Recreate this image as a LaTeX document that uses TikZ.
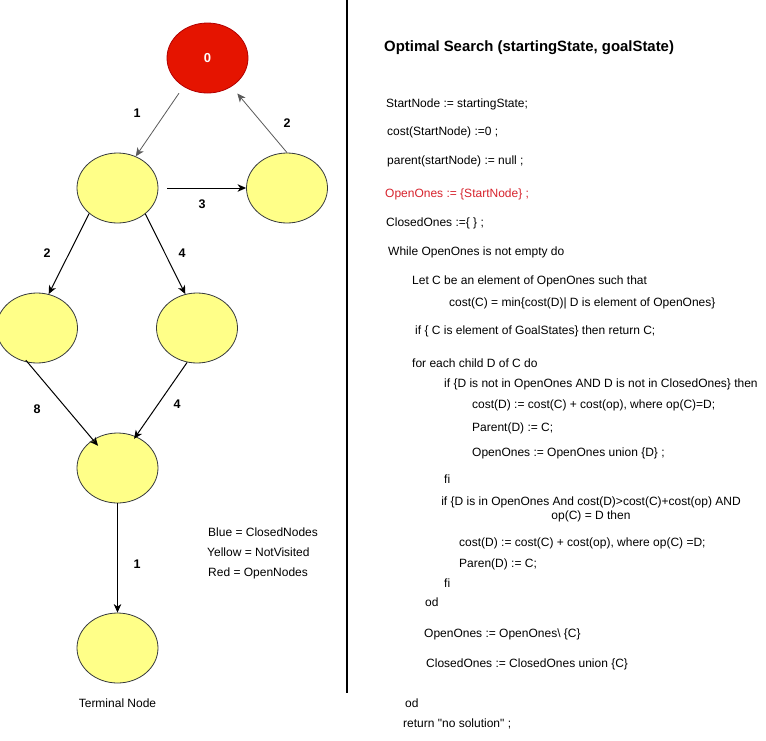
\documentclass[tikz,border=0pt]{standalone}
\usepackage{fontspec}
\setmainfont{Liberation Sans}
\usetikzlibrary{arrows.meta,shapes.geometric}
\definecolor{nodered}{HTML}{E51400}
\definecolor{nodereddraw}{HTML}{B20000}
\definecolor{nodeyellow}{HTML}{FFFF88}
\definecolor{nodeyellowdraw}{HTML}{36393D}
\definecolor{codered}{RGB}{215,35,45}
\definecolor{edgegray}{RGB}{90,90,90}
\tikzset{
  statenode/.style={ellipse, minimum width=81pt, minimum height=70pt, inner sep=0pt, line width=0.8pt},
  yellownode/.style={statenode, fill=nodeyellow, draw=nodeyellowdraw},
  rednode/.style={statenode, fill=nodered, draw=nodereddraw, text=white, font=\fontsize{13}{15}\selectfont\bfseries},
  edgeblack/.style={line width=1pt, black, -{Stealth[length=8.5pt,width=7.5pt,inset=2.5pt]}},
  edgegrey/.style={line width=0.8pt, edgegray, -{Stealth[length=8.5pt,width=7.5pt,inset=2.5pt]}},
  edgelabel/.style={inner sep=0pt, font=\fontsize{12.5}{14}\selectfont\bfseries},
  plain/.style={inner sep=0pt, anchor=west, text height=8.5pt, text depth=2.5pt, font=\fontsize{12}{14}\selectfont},
  titletext/.style={inner sep=0pt, anchor=west, font=\fontsize{14.9}{17}\selectfont\bfseries},
}
\begin{document}
\begin{tikzpicture}[x=1pt, y=-1pt]
\useasboundingbox (0,0) rectangle (766,740);
\fill[white] (0,0) rectangle (766,740);

% separator
\draw[line width=1.3pt] (347,0) coordinate (sepTop) -- (347,693) coordinate (sepBot);

% nodes
\node[rednode] (n0) at (207.5,58) {0};
\node[yellownode] (nA) at (117.5,188) {};
\node[yellownode] (nB) at (287,188) {};
\node[yellownode] (nC) at (37,328) {};
\node[yellownode] (nD) at (197,328) {};
\node[yellownode] (nE) at (117.5,468) {};
\node[yellownode] (nF) at (117.5,648) {};

% edges
\draw[edgegrey, shorten <=8pt] (n0.230) -- (nA.60);
\draw[edgegrey, shorten >=9pt] (nB.north) -- (n0.310);
\draw[edgeblack, shorten <=9pt] (nA.east) -- (nB.west);
\draw[edgeblack] (nA.222) -- (nC.71);
\draw[edgeblack] (nA.317) -- (nD.109);
\draw[edgeblack, shorten <=-3pt, shorten >=-8pt] (nC.255) -- (nE.131);
\draw[edgeblack, shorten >=-3pt] (nD.254) -- (nE.60);
\draw[edgeblack] (nE.south) -- (nF.north);

% edge labels
\node[edgelabel] (l1) at (137,113) {1};
\node[edgelabel] (l2) at (287,123) {2};
\node[edgelabel] (l3) at (202,204) {3};
\node[edgelabel] (l4) at (47,253) {2};
\node[edgelabel] (l5) at (182,253) {4};
\node[edgelabel] (l6) at (37,409) {8};
\node[edgelabel] (l7) at (177,404) {4};
\node[edgelabel] (l8) at (137,564) {1};

% legend
\node[plain] (lg1) at (208,533) {Blue = ClosedNodes};
\node[plain] (lg2) at (207,553) {Yellow = NotVisited};
\node[plain] (lg3) at (208,573) {Red = OpenNodes};
\node[plain, anchor=center] (term) at (117.5,704) {Terminal Node};

% algorithm
\node[titletext] (title) at (384,48) {Optimal Search (startingState, goalState)};
\node[plain] (c1) at (386,104) {StartNode := startingState;};
\node[plain] (c2) at (387,132) {cost(StartNode) :=0 ;};
\node[plain] (c3) at (387,161) {parent(startNode) := null ;};
\node[plain, text=codered] (c4) at (385,194) {OpenOnes := \{StartNode\} ;};
\node[plain] (c5) at (386,223) {ClosedOnes :=\{ \} ;};
\node[plain] (c6) at (388,252) {While OpenOnes is not empty do};
\node[plain] (c7) at (412,281) {Let C be an element of OpenOnes such that};
\node[plain] (c8) at (449,303) {cost(C) = min\{cost(D)| D is element of OpenOnes\}};
\node[plain] (c9) at (415,331) {if \{ C is element of GoalStates\} then return C;};
\node[plain] (c10) at (412,364) {for each child D of C do};
\node[plain] (c11) at (444,384) {if \{D is not in OpenOnes AND D is not in ClosedOnes\} then};
\node[plain] (c12) at (472,405) {cost(D) := cost(C) + cost(op), where op(C)=D;};
\node[plain] (c13) at (472,428) {Parent(D) := C;};
\node[plain] (c14) at (472,453) {OpenOnes := OpenOnes union \{D\} ;};
\node[plain] (c15) at (444,480) {fi};
\node[inner sep=0pt, align=center, font=\fontsize{12}{14}\selectfont] (c16) at (591,509) {if \{D is in OpenOnes And cost(D)>cost(C)+cost(op) AND\\op(C) = D then};
\node[plain] (c17) at (459,543) {cost(D) := cost(C) + cost(op), where op(C) =D;};
\node[plain] (c18) at (459,564) {Paren(D) := C;};
\node[plain] (c19) at (444,584) {fi};
\node[plain] (c20) at (425,603) {od};
\node[plain] (c21) at (424,634) {OpenOnes := OpenOnes\textbackslash{} \{C\}};
\node[plain] (c22) at (426,664) {ClosedOnes := ClosedOnes union \{C\}};
\node[plain] (c23) at (405,704) {od};
\node[plain] (c24) at (403,724) {return \textquotedbl no solution\textquotedbl{} ;};
\end{tikzpicture}
\end{document}
